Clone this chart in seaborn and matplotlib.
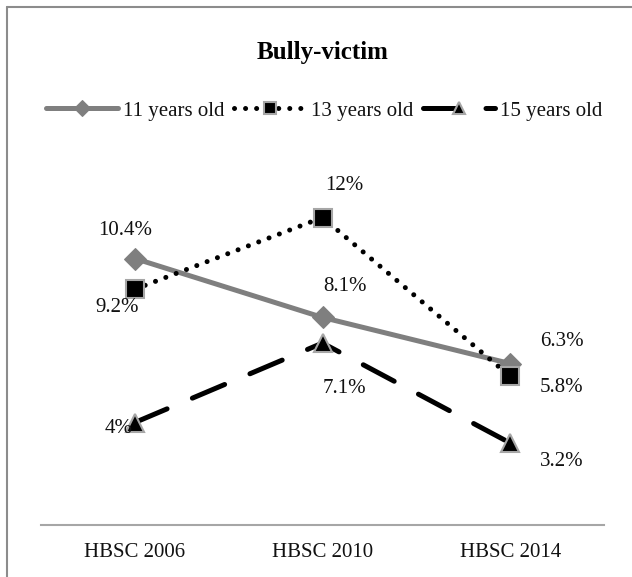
import matplotlib
matplotlib.use("Agg")
import matplotlib.pyplot as plt
from matplotlib.lines import Line2D
import seaborn as sns
import pandas as pd

# Survey waves and bully-victim prevalence (%) by age group
waves = ["HBSC 2006", "HBSC 2010", "HBSC 2014"]
age_groups = ["11 years old", "13 years old", "15 years old"]
age11 = [10.4, 8.1, 6.3]
age13 = [9.2, 12.0, 5.8]
age15 = [4.0, 7.1, 3.2]
value_labels = {
    "11 years old": ["10.4%", "8.1%", "6.3%"],
    "13 years old": ["9.2%", "12%", "5.8%"],
    "15 years old": ["4%", "7.1%", "3.2%"],
}

df = pd.DataFrame({
    "wave": waves * 3,
    "group": [g for g in age_groups for _ in waves],
    "pct": age11 + age13 + age15,
})

sns.set_theme(style="white")
plt.rcParams["font.family"] = ["Liberation Serif", "DejaVu Serif"]

W, H = 632, 577
fig = plt.figure(figsize=(W / 100, H / 100), dpi=100)
ax = fig.add_axes([41 / W, (H - 525) / H, (604 - 41) / W, (525 - 115) / H])

GRAY = "#7f7f7f"
EDGE = "#a6a6a6"
TXT = "#111111"
styles = {
    "11 years old": dict(color=GRAY, linewidth=3.6, linestyle="-", marker="D",
                         markersize=11, markerfacecolor=GRAY, markeredgecolor=GRAY),
    "13 years old": dict(color="black", linewidth=3.6, linestyle=(0, (0.01, 2.2)),
                         dash_capstyle="round", marker="s", markersize=13,
                         markerfacecolor="black", markeredgecolor=EDGE,
                         markeredgewidth=1.5),
    "15 years old": dict(color="black", linewidth=3.6, linestyle=(0, (7, 5.5)),
                         dash_capstyle="round", marker="^", markersize=13,
                         markerfacecolor="black", markeredgecolor=EDGE,
                         markeredgewidth=1.5),
}

for g in age_groups:
    sub = df[df["group"] == g]
    sns.lineplot(data=sub, x="wave", y="pct", ax=ax, label=g,
                 sort=False, **styles[g])

# value label offsets in points (dx, dy)
offsets = {
    "11 years old": [(-7, 20), (16, 22), (37, 16)],
    "13 years old": [(-13, -13), (16, 23), (37, -8)],
    "15 years old": [(-12, -4), (16, -33), (37, -13)],
}
for g in age_groups:
    sub = df[df["group"] == g].reset_index(drop=True)
    for i, row in sub.iterrows():
        ax.annotate(value_labels[g][i], (i, row["pct"]),
                    xytext=offsets[g][i], textcoords="offset points",
                    ha="center", va="center", fontsize=15, color=TXT)

ax.set_xlim(-0.5, 2.5)
ax.set_ylim(0, 16)
ax.set_yticks([])
ax.set_xlabel("")
ax.set_ylabel("")
ax.tick_params(axis="x", length=0, labelsize=15, pad=13, colors=TXT)
for side in ["top", "right", "left"]:
    ax.spines[side].set_visible(False)
ax.spines["bottom"].set_color(EDGE)
ax.spines["bottom"].set_linewidth(1.5)

leg = ax.legend(loc="center", bbox_to_anchor=(324 / W, 1 - 111 / H),
                bbox_transform=fig.transFigure, ncol=3, frameon=False,
                handlelength=3.45, handletextpad=0.25, columnspacing=0.45,
                markerscale=0.7, fontsize=15, labelcolor=TXT,
                borderpad=0, borderaxespad=0)

fig.text(323 / W, 1 - 52 / H, "Bully-victim", ha="center", va="center",
         fontsize=18, fontweight="bold", color="black")

# outer chart frame
fig.add_artist(Line2D([7 / W, 7 / W], [0, 1 - 7 / H], transform=fig.transFigure,
                      color="#8c8c8c", linewidth=1.5))
fig.add_artist(Line2D([7 / W, 1], [1 - 7 / H, 1 - 7 / H], transform=fig.transFigure,
                      color="#8c8c8c", linewidth=1.5))

fig.savefig("out.png", dpi=100, facecolor="white")
